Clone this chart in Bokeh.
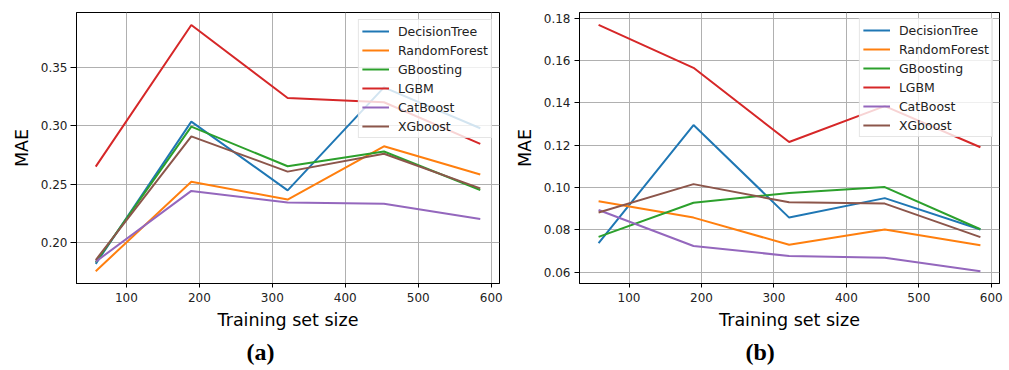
from bokeh.plotting import figure
from bokeh.models import Range1d, FixedTicker, NumeralTickFormatter, Legend, LegendItem, Title
from bokeh.layouts import row
from bokeh.embed import file_html
from bokeh.resources import INLINE

sizes = [58, 189, 321, 453, 585]
models = ["DecisionTree", "RandomForest", "GBoosting", "LGBM", "CatBoost", "XGboost"]
colors = ["#1f77b4", "#ff7f0e", "#2ca02c", "#d62728", "#9467bd", "#8c564b"]

# Panel (a)
dt_a = [0.1814, 0.3037, 0.2446, 0.3331, 0.2980]
rf_a = [0.1751, 0.2520, 0.2367, 0.2825, 0.2582]
gb_a = [0.1828, 0.2994, 0.2653, 0.2780, 0.2449]
lgbm_a = [0.2650, 0.3867, 0.3240, 0.3203, 0.2845]
cat_a = [0.1833, 0.2441, 0.2342, 0.2330, 0.2200]
xgb_a = [0.1847, 0.2910, 0.2607, 0.2760, 0.2463]

# Panel (b)
dt_b = [0.0738, 0.1295, 0.0858, 0.0950, 0.0802]
rf_b = [0.0935, 0.0858, 0.0730, 0.0802, 0.0727]
gb_b = [0.0767, 0.0928, 0.0974, 0.1002, 0.0803]
lgbm_b = [0.1768, 0.1565, 0.1215, 0.1384, 0.1190]
cat_b = [0.0894, 0.0724, 0.0677, 0.0669, 0.0605]
xgb_b = [0.0882, 0.1016, 0.0930, 0.0924, 0.0766]

x_ticks = [100, 200, 300, 400, 500, 600]
y_ticks_a = [0.20, 0.25, 0.30, 0.35]
y_ticks_b = [0.06, 0.08, 0.10, 0.12, 0.14, 0.16, 0.18]

FONT = "DejaVu Sans"


def make_panel(series, y_ticks, caption, width, ml, mr, mt, mb, y_start, y_end,
               ystandoff, ytick, cap_offset, legend_margin):
    p = figure(width=width, height=370, output_backend="svg", toolbar_location=None,
               x_range=Range1d(31.65, 611.35), y_range=Range1d(y_start, y_end),
               min_border_left=ml, min_border_right=mr, min_border_top=mt,
               min_border_bottom=mb)
    p.background_fill_color = "white"
    p.border_fill_color = "white"
    p.outline_line_color = "black"
    p.outline_line_width = 1
    p.outline_line_alpha = 1

    items = []
    for name, col, ys in zip(models, colors, series):
        r = p.line(sizes, ys, line_color=col, line_width=2)
        items.append(LegendItem(label=name, renderers=[r]))

    for ax in (p.xaxis[0], p.yaxis[0]):
        ax.axis_line_color = "black"
        ax.major_tick_line_color = "black"
        ax.minor_tick_line_color = None
        ax.major_tick_in = 0
        ax.major_label_text_font = FONT
        ax.major_label_text_font_size = "12px"
        ax.major_label_text_color = "#222222"
        ax.axis_label_text_font = FONT
        ax.axis_label_text_font_size = "17.5px"
        ax.axis_label_text_font_style = "normal"
        ax.axis_label_text_color = "black"

    p.xaxis.ticker = FixedTicker(ticks=x_ticks)
    p.xaxis.major_tick_out = 4
    p.xaxis.major_label_standoff = 5
    p.xaxis.axis_label = "Training set size"
    p.xaxis.axis_label_standoff = 5

    p.yaxis.ticker = FixedTicker(ticks=y_ticks)
    p.yaxis.formatter = NumeralTickFormatter(format="0.00")
    p.yaxis.major_tick_out = ytick
    p.yaxis.major_label_standoff = ystandoff
    p.yaxis.axis_label = "MAE"
    p.yaxis.axis_label_standoff = 6

    p.xgrid.ticker = FixedTicker(ticks=x_ticks)
    p.ygrid.ticker = FixedTicker(ticks=y_ticks)
    for g in (p.xgrid[0], p.ygrid[0]):
        g.grid_line_color = "#b0b0b0"
        g.grid_line_width = 1

    legend = Legend(items=items, location="top_right", margin=legend_margin,
                    padding=3, spacing=3, label_height=16, glyph_height=16,
                    glyph_width=27, label_standoff=9,
                    label_text_font=FONT, label_text_font_size="12.5px",
                    label_text_color="#222222",
                    border_line_color="#cccccc", border_line_width=1,
                    background_fill_color="white", background_fill_alpha=0.8)
    p.add_layout(legend, "center")

    t = Title(text=caption, align="left", offset=cap_offset,
              text_font="Liberation Serif", text_font_size="24px",
              text_font_style="bold", text_color="black", standoff=8)
    p.add_layout(t, "below")
    return p


pa = make_panel([dt_a, rf_a, gb_a, lgbm_a, cat_a, xgb_a], y_ticks_a, "(a)",
                505, 76, 6, 8, 87, 0.1645, 0.3975, 3, 6, 170, 7)
pb = make_panel([dt_b, rf_b, gb_b, lgbm_b, cat_b, xgb_b], y_ticks_b, "(b)",
                504, 74, 10, 12, 87, 0.0547, 0.1826, 4, 5, 166, 6)

layout = row(pa, pb)
open("out.html", "w").write(file_html(layout, INLINE))
